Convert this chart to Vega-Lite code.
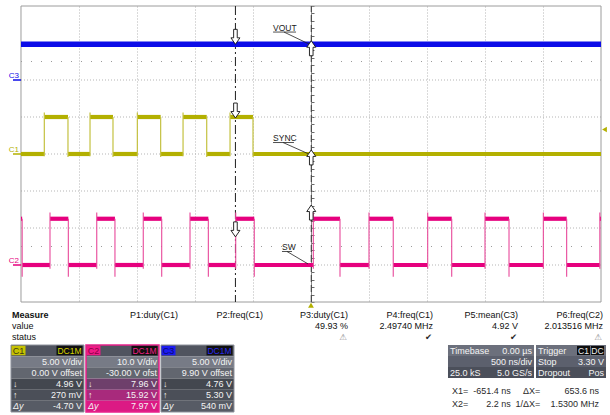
{
"$schema": "https://vega.github.io/schema/vega-lite/v6.json",
"background": "white",
"padding": {"left": 0, "top": 5, "right": 0, "bottom": 0},
"spacing": 2,
"config": {"font": "Liberation Sans", "view": {"stroke": null}},
"vconcat": [
{
 "width": 601, "height": 296,
 "resolve": {"scale": {"y": "independent"}},
 "layer": [
  {
   "data": {"values": [{"d": -3}, {"d": -2}, {"d": -1}, {"d": 0}, {"d": 1}, {"d": 2}, {"d": 3}]},
   "mark": {"type": "rule", "color": "#b4b4b4", "strokeDash": [1, 2], "strokeWidth": 1},
   "encoding": {
    "x": {"datum": -2500, "type": "quantitative", "scale": {"domain": [-2681.03, 2500], "nice": false, "zero": false},
      "axis": {"values": [-2000,-1500,-1000,-500,0,500,1000,1500,2000], "grid": true, "gridDash": [1,2], "gridColor": "#b4b4b4", "domain": false, "ticks": false, "labels": false, "title": null, "minExtent": 0, "maxExtent": 0}},
    "x2": {"datum": 2500},
    "y": {"field": "d", "type": "quantitative", "scale": {"domain": [-4, 4], "nice": false, "zero": false}, "axis": null}
   }
  },
  {
   "data": {"values": [{"d": 2.5}, {"d": -2.5}]},
   "mark": {"type": "rule", "color": "#9a9a9a", "strokeDash": [1, 9], "strokeWidth": 1},
   "encoding": {
    "x": {"datum": -2500, "type": "quantitative", "scale": {"domain": [-2681.03, 2500], "nice": false, "zero": false}},
    "x2": {"datum": 2500},
    "y": {"field": "d", "type": "quantitative", "scale": {"domain": [-4, 4], "nice": false, "zero": false}, "axis": null}
   }
  },
  {
   "data": {"values": [
    {"t0": -2500, "t1": 2500, "d0": 4, "d1": 4},
    {"t0": -2500, "t1": 2500, "d0": -4, "d1": -4},
    {"t0": -2500, "t1": -2500, "d0": -4, "d1": 4},
    {"t0": 2500, "t1": 2500, "d0": -4, "d1": 4}
   ]},
   "mark": {"type": "rule", "color": "#9c9c9c", "strokeWidth": 1},
   "encoding": {
    "x": {"field": "t0", "type": "quantitative", "scale": {"domain": [-2681.03, 2500], "nice": false, "zero": false}},
    "x2": {"field": "t1"},
    "y": {"field": "d0", "type": "quantitative", "scale": {"domain": [-4, 4], "nice": false, "zero": false}, "axis": null},
    "y2": {"field": "d1"}
   }
  },
  {
   "data": {"values": [{"lab": "C3", "d": 2}, {"lab": "C1", "d": 0}, {"lab": "C2", "d": -3}]},
   "layer": [
    {
     "mark": {"type": "rule", "strokeWidth": 1.5},
     "encoding": {
      "x": {"datum": -2569, "type": "quantitative", "scale": {"domain": [-2681.03, 2500], "nice": false, "zero": false}},
      "x2": {"datum": -2500},
      "y": {"field": "d", "type": "quantitative", "scale": {"domain": [-4, 4], "nice": false, "zero": false}, "axis": null},
      "color": {"field": "lab", "type": "nominal", "scale": {"domain": ["C1", "C2", "C3"], "range": ["#b3b000", "#e6007e", "#0c0ce8"]}, "legend": null}
     }
    },
    {
     "mark": {"type": "text", "align": "right", "baseline": "bottom", "dx": -2, "dy": -0.5, "fontSize": 8},
     "encoding": {
      "x": {"datum": -2500, "type": "quantitative", "scale": {"domain": [-2681.03, 2500], "nice": false, "zero": false}},
      "y": {"field": "d", "type": "quantitative", "scale": {"domain": [-4, 4], "nice": false, "zero": false}, "axis": null},
      "text": {"field": "lab"},
      "color": {"field": "lab", "type": "nominal", "scale": {"domain": ["C1", "C2", "C3"], "range": ["#b3b000", "#e6007e", "#0c0ce8"]}, "legend": null}
     }
    }
   ]
  },
  {
   "data": {"values": [{}]},
   "mark": {"type": "point", "shape": "triangle-up", "filled": true, "color": "#b3b000", "size": 34, "opacity": 1},
   "encoding": {
    "x": {"datum": 0, "type": "quantitative", "scale": {"domain": [-2681.03, 2500], "nice": false, "zero": false}},
    "y": {"datum": -4.09, "type": "quantitative", "scale": {"domain": [-4, 4], "nice": false, "zero": false}, "axis": null}
   }
  },
  {
   "data": {"values": [{}]},
   "mark": {"type": "rule", "color": "#1e1e1e", "strokeDash": [9, 3, 2, 3], "strokeWidth": 1},
   "encoding": {"x": {"datum": -651.4, "type": "quantitative", "scale": {"domain": [-2681.03, 2500], "nice": false, "zero": false}}}
  },
  {
   "data": {"values": [{}]},
   "mark": {"type": "rule", "color": "#3a3a3a", "strokeDash": [7, 3], "strokeWidth": 1},
   "encoding": {
    "x": {"datum": 2.2, "type": "quantitative", "scale": {"domain": [-2681.03, 2500], "nice": false, "zero": false}},
    "y": {"datum": -4, "type": "quantitative", "scale": {"domain": [-4, 4], "nice": false, "zero": false},
      "axis": {"orient": "right", "offset": -290, "values": [-4,-3.8,-3.6,-3.4,-3.2,-3,-2.8,-2.6,-2.4,-2.2,-2,-1.8,-1.6,-1.4,-1.2,-1,-0.8,-0.6,-0.4,-0.2,0,0.2,0.4,0.6,0.8,1,1.2,1.4,1.6,1.8,2,2.2,2.4,2.6,2.8,3,3.2,3.4,3.6,3.8,4], "labels": false, "grid": false, "domain": true, "domainColor": "#8a8a8a", "ticks": true, "tickSize": 3, "tickColor": "#6a6a6a", "title": null, "minExtent": 0, "maxExtent": 0}},
    "y2": {"datum": 4}
   }
  },
  {
   "layer": [
    {
     "data": {"values": [{"t0": -2500, "t1": 2500, "v": 4.92}]},
     "mark": {"type": "rule", "color": "#0c0ce8", "strokeWidth": 5.5},
     "encoding": {
      "x": {"field": "t0", "type": "quantitative", "scale": {"domain": [-2681.03, 2500], "nice": false, "zero": false}},
      "x2": {"field": "t1"},
      "y": {"field": "v", "type": "quantitative", "scale": {"domain": [-29.9, 10.1], "nice": false, "zero": false}, "axis": null}
     }
    },
    {
     "data": {"values": [{"t0": -327, "v0": 6.58, "t1": -129, "v1": 6.58}, {"t0": -233, "v0": 6.58, "t1": -17, "v1": 4.96}]},
     "mark": {"type": "rule", "color": "#222222", "strokeWidth": 0.8},
     "encoding": {
      "x": {"field": "t0", "type": "quantitative", "scale": {"domain": [-2681.03, 2500], "nice": false, "zero": false}},
      "x2": {"field": "t1"},
      "y": {"field": "v0", "type": "quantitative", "scale": {"domain": [-29.9, 10.1], "nice": false, "zero": false}, "axis": null},
      "y2": {"field": "v1"}
     }
    },
    {
     "data": {"values": [{"t": -327, "v": 6.78, "name": "VOUT"}]},
     "mark": {"type": "text", "align": "left", "baseline": "alphabetic", "fontSize": 8.5, "color": "#222222"},
     "encoding": {
      "x": {"field": "t", "type": "quantitative", "scale": {"domain": [-2681.03, 2500], "nice": false, "zero": false}},
      "y": {"field": "v", "type": "quantitative", "scale": {"domain": [-29.9, 10.1], "nice": false, "zero": false}, "axis": null},
      "text": {"field": "name"}
     }
    },
    {
     "data": {"values": [{"t": -651.4, "v": 4.92, "cursor": "X1"}, {"t": 2.2, "v": 5.4, "cursor": "X2"}]},
     "mark": {"type": "point", "filled": true, "fill": "white", "stroke": "#111111", "strokeWidth": 0.9, "size": 400, "opacity": 1},
     "encoding": {
      "x": {"field": "t", "type": "quantitative", "scale": {"domain": [-2681.03, 2500], "nice": false, "zero": false}},
      "y": {"field": "v", "type": "quantitative", "scale": {"domain": [-29.9, 10.1], "nice": false, "zero": false}, "axis": null},
      "shape": {"field": "cursor", "type": "nominal", "scale": {"domain": ["X1", "X2"], "range": ["M-0.18,-1.5L0.18,-1.5L0.18,-0.65L0.45,-0.65L0,0L-0.45,-0.65L-0.18,-0.65Z", "M-0.18,1.5L0.18,1.5L0.18,0.65L0.45,0.65L0,0L-0.45,0.65L-0.18,0.65Z"]}, "legend": null}
     }
    }
   ]
  },
  {
   "layer": [
    {
     "data": {"values": [
      {"t0": -2500, "t1": -2299, "v": 0}, {"t0": -2299, "t1": -2095, "v": 5},
      {"t0": -2095, "t1": -1905, "v": 0}, {"t0": -1905, "t1": -1707, "v": 5},
      {"t0": -1707, "t1": -1497, "v": 0}, {"t0": -1497, "t1": -1296, "v": 5},
      {"t0": -1296, "t1": -1103, "v": 0}, {"t0": -1103, "t1": -899, "v": 5},
      {"t0": -899, "t1": -698, "v": 0}, {"t0": -698, "t1": -500, "v": 5},
      {"t0": -500, "t1": 2500, "v": 0}
     ]},
     "mark": {"type": "rule", "color": "#b3b000", "strokeWidth": 4.2},
     "encoding": {
      "x": {"field": "t0", "type": "quantitative", "scale": {"domain": [-2681.03, 2500], "nice": false, "zero": false}},
      "x2": {"field": "t1"},
      "y": {"field": "v", "type": "quantitative", "scale": {"domain": [-20, 20], "nice": false, "zero": false}, "axis": null}
     }
    },
    {
     "data": {"values": [
      {"t": -2299, "v0": -0.3, "v1": 5.6}, {"t": -2095, "v0": 5, "v1": -0.4},
      {"t": -1905, "v0": -0.3, "v1": 5.6}, {"t": -1707, "v0": 5, "v1": -0.4},
      {"t": -1497, "v0": -0.3, "v1": 5.6}, {"t": -1296, "v0": 5, "v1": -0.4},
      {"t": -1103, "v0": -0.3, "v1": 5.6}, {"t": -899, "v0": 5, "v1": -0.4},
      {"t": -698, "v0": -0.3, "v1": 5.6}, {"t": -500, "v0": 5, "v1": -0.4}
     ]},
     "mark": {"type": "rule", "color": "#c4c140", "strokeWidth": 1.2},
     "encoding": {
      "x": {"field": "t", "type": "quantitative", "scale": {"domain": [-2681.03, 2500], "nice": false, "zero": false}},
      "y": {"field": "v0", "type": "quantitative", "scale": {"domain": [-20, 20], "nice": false, "zero": false}, "axis": null},
      "y2": {"field": "v1"}
     }
    },
    {
     "data": {"values": [{"t0": -327, "v0": 1.55, "t1": -147, "v1": 1.55}, {"t0": -241, "v0": 1.55, "t1": -26, "v1": 0.05}]},
     "mark": {"type": "rule", "color": "#222222", "strokeWidth": 0.8},
     "encoding": {
      "x": {"field": "t0", "type": "quantitative", "scale": {"domain": [-2681.03, 2500], "nice": false, "zero": false}},
      "x2": {"field": "t1"},
      "y": {"field": "v0", "type": "quantitative", "scale": {"domain": [-20, 20], "nice": false, "zero": false}, "axis": null},
      "y2": {"field": "v1"}
     }
    },
    {
     "data": {"values": [{"t": -327, "v": 1.76, "name": "SYNC"}]},
     "mark": {"type": "text", "align": "left", "baseline": "alphabetic", "fontSize": 8.5, "color": "#222222"},
     "encoding": {
      "x": {"field": "t", "type": "quantitative", "scale": {"domain": [-2681.03, 2500], "nice": false, "zero": false}},
      "y": {"field": "v", "type": "quantitative", "scale": {"domain": [-20, 20], "nice": false, "zero": false}, "axis": null},
      "text": {"field": "name"}
     }
    },
    {
     "data": {"values": [{"t": -651.4, "v": 4.86, "cursor": "X1"}, {"t": 2.2, "v": 0.55, "cursor": "X2"}]},
     "mark": {"type": "point", "filled": true, "fill": "white", "stroke": "#111111", "strokeWidth": 0.9, "size": 400, "opacity": 1},
     "encoding": {
      "x": {"field": "t", "type": "quantitative", "scale": {"domain": [-2681.03, 2500], "nice": false, "zero": false}},
      "y": {"field": "v", "type": "quantitative", "scale": {"domain": [-20, 20], "nice": false, "zero": false}, "axis": null},
      "shape": {"field": "cursor", "type": "nominal", "scale": {"domain": ["X1", "X2"], "range": ["M-0.18,-1.5L0.18,-1.5L0.18,-0.65L0.45,-0.65L0,0L-0.45,-0.65L-0.18,-0.65Z", "M-0.18,1.5L0.18,1.5L0.18,0.65L0.45,0.65L0,0L-0.45,0.65L-0.18,0.65Z"]}, "legend": null}
     }
    },
    {
     "data": {"values": [{"t": 2530, "v": 3.3}]},
     "mark": {"type": "point", "shape": "triangle-left", "filled": true, "color": "#b3b000", "size": 30, "opacity": 1},
     "encoding": {
      "x": {"field": "t", "type": "quantitative", "scale": {"domain": [-2681.03, 2500], "nice": false, "zero": false}},
      "y": {"field": "v", "type": "quantitative", "scale": {"domain": [-20, 20], "nice": false, "zero": false}, "axis": null}
     }
    }
   ]
  },
  {
   "layer": [
    {
     "data": {"values": [
      {"t0": -2500, "t1": -2490, "v": 12.5}, {"t0": -2490, "t1": -2250, "v": 0},
      {"t0": -2250, "t1": -2092, "v": 12.5}, {"t0": -2092, "t1": -1847, "v": 0},
      {"t0": -1847, "t1": -1690, "v": 12.5}, {"t0": -1690, "t1": -1446, "v": 0},
      {"t0": -1446, "t1": -1287, "v": 12.5}, {"t0": -1287, "t1": -1043, "v": 0},
      {"t0": -1043, "t1": -885, "v": 12.5}, {"t0": -885, "t1": -649, "v": 0},
      {"t0": -649, "t1": -489, "v": 12.5}, {"t0": -489, "t1": 20, "v": 0},
      {"t0": 20, "t1": 250, "v": 12.5}, {"t0": 250, "t1": 500, "v": 0},
      {"t0": 500, "t1": 709, "v": 12.5}, {"t0": 709, "t1": 1006, "v": 0},
      {"t0": 1006, "t1": 1213, "v": 12.5}, {"t0": 1213, "t1": 1500, "v": 0},
      {"t0": 1500, "t1": 1707, "v": 12.5}, {"t0": 1707, "t1": 2003, "v": 0},
      {"t0": 2003, "t1": 2204, "v": 12.5}, {"t0": 2204, "t1": 2490, "v": 0},
      {"t0": 2490, "t1": 2500, "v": 12.5}
     ]},
     "mark": {"type": "rule", "color": "#e6007e", "strokeWidth": 4.2},
     "encoding": {
      "x": {"field": "t0", "type": "quantitative", "scale": {"domain": [-2681.03, 2500], "nice": false, "zero": false}},
      "x2": {"field": "t1"},
      "y": {"field": "v", "type": "quantitative", "scale": {"domain": [-10, 70], "nice": false, "zero": false}, "axis": null}
     }
    },
    {
     "data": {"values": [
      {"t": -2490, "v0": 12.5, "v1": -3.2}, {"t": -2250, "v0": -1, "v1": 14.2},
      {"t": -2092, "v0": 12.5, "v1": -3.2}, {"t": -1847, "v0": -1, "v1": 14.2},
      {"t": -1690, "v0": 12.5, "v1": -3.2}, {"t": -1446, "v0": -1, "v1": 14.2},
      {"t": -1287, "v0": 12.5, "v1": -3.2}, {"t": -1043, "v0": -1, "v1": 14.2},
      {"t": -885, "v0": 12.5, "v1": -3.2}, {"t": -649, "v0": -1, "v1": 14.2},
      {"t": -489, "v0": 12.5, "v1": -3.2}, {"t": 20, "v0": -1, "v1": 14.2},
      {"t": 250, "v0": 12.5, "v1": -3.2}, {"t": 500, "v0": -1, "v1": 14.2},
      {"t": 709, "v0": 12.5, "v1": -3.2}, {"t": 1006, "v0": -1, "v1": 14.2},
      {"t": 1213, "v0": 12.5, "v1": -3.2}, {"t": 1500, "v0": -1, "v1": 14.2},
      {"t": 1707, "v0": 12.5, "v1": -3.2}, {"t": 2003, "v0": -1, "v1": 14.2},
      {"t": 2204, "v0": 12.5, "v1": -3.2}, {"t": 2490, "v0": -1, "v1": 14.2}
     ]},
     "mark": {"type": "rule", "color": "#e8489a", "strokeWidth": 1.1},
     "encoding": {
      "x": {"field": "t", "type": "quantitative", "scale": {"domain": [-2681.03, 2500], "nice": false, "zero": false}},
      "y": {"field": "v0", "type": "quantitative", "scale": {"domain": [-10, 70], "nice": false, "zero": false}, "axis": null},
      "y2": {"field": "v1"}
     }
    },
    {
     "data": {"values": [{"t0": -250, "v0": 3.65, "t1": -164, "v1": 3.65}, {"t0": -207, "v0": 3.65, "t1": -26, "v1": 0.3}]},
     "mark": {"type": "rule", "color": "#222222", "strokeWidth": 0.8},
     "encoding": {
      "x": {"field": "t0", "type": "quantitative", "scale": {"domain": [-2681.03, 2500], "nice": false, "zero": false}},
      "x2": {"field": "t1"},
      "y": {"field": "v0", "type": "quantitative", "scale": {"domain": [-10, 70], "nice": false, "zero": false}, "axis": null},
      "y2": {"field": "v1"}
     }
    },
    {
     "data": {"values": [{"t": -250, "v": 4.05, "name": "SW"}]},
     "mark": {"type": "text", "align": "left", "baseline": "alphabetic", "fontSize": 8.5, "color": "#222222"},
     "encoding": {
      "x": {"field": "t", "type": "quantitative", "scale": {"domain": [-2681.03, 2500], "nice": false, "zero": false}},
      "y": {"field": "v", "type": "quantitative", "scale": {"domain": [-10, 70], "nice": false, "zero": false}, "axis": null},
      "text": {"field": "name"}
     }
    },
    {
     "data": {"values": [{"t": -651.4, "v": 7.6, "cursor": "X1"}, {"t": 2.2, "v": 16.2, "cursor": "X2"}]},
     "mark": {"type": "point", "filled": true, "fill": "white", "stroke": "#111111", "strokeWidth": 0.9, "size": 400, "opacity": 1},
     "encoding": {
      "x": {"field": "t", "type": "quantitative", "scale": {"domain": [-2681.03, 2500], "nice": false, "zero": false}},
      "y": {"field": "v", "type": "quantitative", "scale": {"domain": [-10, 70], "nice": false, "zero": false}, "axis": null},
      "shape": {"field": "cursor", "type": "nominal", "scale": {"domain": ["X1", "X2"], "range": ["M-0.18,-1.5L0.18,-1.5L0.18,-0.65L0.45,-0.65L0,0L-0.45,-0.65L-0.18,-0.65Z", "M-0.18,1.5L0.18,1.5L0.18,0.65L0.45,0.65L0,0L-0.45,0.65L-0.18,0.65Z"]}, "legend": null}
     }
    }
   ]
  }
 ]
},
{
 "width": 604, "height": 32,
 "data": {"values": [
  {"col": "M", "row": "head", "txt": "Measure"},
  {"col": "M", "row": "value", "txt": "value"},
  {"col": "M", "row": "status", "txt": "status"},
  {"col": "P1", "row": "head", "txt": "P1:duty(C1)"},
  {"col": "P2", "row": "head", "txt": "P2:freq(C1)"},
  {"col": "P3", "row": "head", "txt": "P3:duty(C1)"},
  {"col": "P4", "row": "head", "txt": "P4:freq(C1)"},
  {"col": "P5", "row": "head", "txt": "P5:mean(C3)"},
  {"col": "P6", "row": "head", "txt": "P6:freq(C2)"},
  {"col": "P3", "row": "value", "txt": "49.93 %"},
  {"col": "P4", "row": "value", "txt": "2.49740 MHz"},
  {"col": "P5", "row": "value", "txt": "4.92 V"},
  {"col": "P6", "row": "value", "txt": "2.013516 MHz"},
  {"col": "P3", "row": "status", "txt": "⚠"},
  {"col": "P4", "row": "status", "txt": "✔"},
  {"col": "P5", "row": "status", "txt": "✔"},
  {"col": "P6", "row": "status", "txt": "⚠"}
 ]},
 "layer": [
  {
   "transform": [{"filter": "datum.col === 'M' && datum.row === 'head'"}],
   "mark": {"type": "text", "align": "left", "dx": 3, "fontWeight": "bold", "fontSize": 9, "color": "#111111"},
   "encoding": {
    "x": {"field": "col", "type": "nominal", "bandPosition": 0, "scale": {"type": "band", "domain": ["M","P1","P2","P3","P4","P5","P6"], "paddingInner": 0, "paddingOuter": 0.053, "align": 1}, "axis": null},
    "y": {"field": "row", "type": "nominal", "scale": {"type": "band", "domain": ["head","value","status"], "paddingInner": 0, "paddingOuter": 0}, "axis": null},
    "text": {"field": "txt"}
   }
  },
  {
   "transform": [{"filter": "datum.col === 'M' && datum.row !== 'head'"}],
   "mark": {"type": "text", "align": "left", "dx": 3, "fontSize": 9, "color": "#111111"},
   "encoding": {
    "x": {"field": "col", "type": "nominal", "bandPosition": 0, "scale": {"type": "band", "domain": ["M","P1","P2","P3","P4","P5","P6"], "paddingInner": 0, "paddingOuter": 0.053, "align": 1}, "axis": null},
    "y": {"field": "row", "type": "nominal", "scale": {"type": "band", "domain": ["head","value","status"], "paddingInner": 0, "paddingOuter": 0}, "axis": null},
    "text": {"field": "txt"}
   }
  },
  {
   "transform": [{"filter": "datum.col !== 'M' && datum.row !== 'status'"}],
   "mark": {"type": "text", "align": "right", "dx": -1, "fontSize": 9, "color": "#111111"},
   "encoding": {
    "x": {"field": "col", "type": "nominal", "bandPosition": 1, "scale": {"type": "band", "domain": ["M","P1","P2","P3","P4","P5","P6"], "paddingInner": 0, "paddingOuter": 0.053, "align": 1}, "axis": null},
    "y": {"field": "row", "type": "nominal", "scale": {"type": "band", "domain": ["head","value","status"], "paddingInner": 0, "paddingOuter": 0}, "axis": null},
    "text": {"field": "txt"}
   }
  },
  {
   "transform": [{"filter": "datum.col !== 'M' && datum.row === 'status'"}],
   "mark": {"type": "text", "align": "right", "dx": -2, "fontSize": 8.5, "font": "DejaVu Sans"},
   "encoding": {
    "x": {"field": "col", "type": "nominal", "bandPosition": 1, "scale": {"type": "band", "domain": ["M","P1","P2","P3","P4","P5","P6"], "paddingInner": 0, "paddingOuter": 0.053, "align": 1}, "axis": null},
    "y": {"field": "row", "type": "nominal", "scale": {"type": "band", "domain": ["head","value","status"], "paddingInner": 0, "paddingOuter": 0}, "axis": null},
    "text": {"field": "txt"},
    "color": {"condition": {"test": "datum.txt === '⚠'", "value": "#858585"}, "value": "#2a2a2a"}
   }
  }
 ]
},
{
 "spacing": 212,
 "hconcat": [
  {
   "width": 234, "height": 67,
   "data": {"values": [
    {"ch": "C1", "row": "h", "lab": "", "val": ""},
    {"ch": "C1", "row": "r1", "lab": "", "val": "5.00 V/div"},
    {"ch": "C1", "row": "r2", "lab": "", "val": "0.00 V offset"},
    {"ch": "C1", "row": "r3", "lab": "↓", "val": "4.96 V"},
    {"ch": "C1", "row": "r4", "lab": "↑", "val": "270 mV"},
    {"ch": "C1", "row": "r5", "lab": "Δy", "val": "-4.70 V"},
    {"ch": "C2", "row": "h", "lab": "", "val": ""},
    {"ch": "C2", "row": "r1", "lab": "", "val": "10.0 V/div"},
    {"ch": "C2", "row": "r2", "lab": "", "val": "-30.00 V ofst"},
    {"ch": "C2", "row": "r3", "lab": "↓", "val": "7.96 V"},
    {"ch": "C2", "row": "r4", "lab": "↑", "val": "15.92 V"},
    {"ch": "C2", "row": "r5", "lab": "Δy", "val": "7.97 V"},
    {"ch": "C3", "row": "h", "lab": "", "val": ""},
    {"ch": "C3", "row": "r1", "lab": "", "val": "5.00 V/div"},
    {"ch": "C3", "row": "r2", "lab": "", "val": "9.90 V offset"},
    {"ch": "C3", "row": "r3", "lab": "↓", "val": "4.76 V"},
    {"ch": "C3", "row": "r4", "lab": "↑", "val": "5.30 V"},
    {"ch": "C3", "row": "r5", "lab": "Δy", "val": "540 mV"}
   ]},
   "resolve": {"scale": {"color": "independent"}},
   "layer": [
    {
     "transform": [{"filter": "datum.ch !== 'C2'"}],
     "mark": {"type": "rect"},
     "encoding": {
      "x": {"field": "ch", "type": "nominal", "scale": {"type": "band", "domain": ["C1","C2","C3"], "paddingInner": 0.0267, "paddingOuter": 0.0733, "align": 1}, "axis": null},
      "y": {"field": "row", "type": "nominal", "scale": {"type": "band", "domain": ["h","r1","r2","r3","r4","r5"], "paddingInner": 0, "paddingOuter": 0}, "axis": null},
      "color": {"field": "row", "type": "nominal", "scale": {"domain": ["h","r1","r2","r3","r4","r5"], "range": ["#50545f","#777b86","#62666f","#43474f","#4b4f58","#575b65"]}, "legend": null}
     }
    },
    {
     "transform": [{"filter": "datum.ch === 'C2'"}],
     "mark": {"type": "rect"},
     "encoding": {
      "x": {"field": "ch", "type": "nominal", "scale": {"type": "band", "domain": ["C1","C2","C3"], "paddingInner": 0.0267, "paddingOuter": 0.0733, "align": 1}, "axis": null},
      "y": {"field": "row", "type": "nominal", "scale": {"type": "band", "domain": ["h","r1","r2","r3","r4","r5"], "paddingInner": 0, "paddingOuter": 0}, "axis": null},
      "color": {"field": "row", "type": "nominal", "scale": {"domain": ["h","r1","r2","r3","r4","r5"], "range": ["#50545f","#777b86","#62666f","#6e3f6b","#a82a7c","#dc1a84"]}, "legend": null}
     }
    },
    {
     "transform": [{"filter": "datum.row === 'h' && datum.ch !== 'C2'"}],
     "mark": {"type": "rect", "fillOpacity": 0, "stroke": "#8e929c", "strokeWidth": 1},
     "encoding": {
      "x": {"field": "ch", "type": "nominal", "scale": {"type": "band", "domain": ["C1","C2","C3"], "paddingInner": 0.0267, "paddingOuter": 0.0733, "align": 1}, "axis": null}
     }
    },
    {
     "transform": [{"filter": "datum.row === 'h' && datum.ch === 'C2'"}],
     "mark": {"type": "rect", "fillOpacity": 0, "stroke": "#e8208a", "strokeWidth": 1.5},
     "encoding": {
      "x": {"field": "ch", "type": "nominal", "scale": {"type": "band", "domain": ["C1","C2","C3"], "paddingInner": 0.0267, "paddingOuter": 0.0733, "align": 1}, "axis": null}
     }
    },
    {
     "transform": [{"filter": "datum.row === 'h'"}],
     "mark": {"type": "rect", "width": 14, "height": 9.5, "xOffset": -29},
     "encoding": {
      "x": {"field": "ch", "type": "nominal", "scale": {"type": "band", "domain": ["C1","C2","C3"], "paddingInner": 0.0267, "paddingOuter": 0.0733, "align": 1}, "axis": null},
      "y": {"field": "row", "type": "nominal", "scale": {"type": "band", "domain": ["h","r1","r2","r3","r4","r5"], "paddingInner": 0, "paddingOuter": 0}, "axis": null},
      "color": {"field": "ch", "type": "nominal", "scale": {"domain": ["C1","C2","C3"], "range": ["#c6c200","#ef1a86","#1c1cf0"]}, "legend": null}
     }
    },
    {
     "transform": [{"filter": "datum.row === 'h'"}],
     "mark": {"type": "rect", "width": 26, "height": 9.5, "xOffset": 22, "color": "#101010"},
     "encoding": {
      "x": {"field": "ch", "type": "nominal", "scale": {"type": "band", "domain": ["C1","C2","C3"], "paddingInner": 0.0267, "paddingOuter": 0.0733, "align": 1}, "axis": null},
      "y": {"field": "row", "type": "nominal", "scale": {"type": "band", "domain": ["h","r1","r2","r3","r4","r5"], "paddingInner": 0, "paddingOuter": 0}, "axis": null}
     }
    },
    {
     "transform": [{"filter": "datum.row === 'h'"}],
     "mark": {"type": "text", "dx": -29, "fontSize": 9},
     "encoding": {
      "x": {"field": "ch", "type": "nominal", "scale": {"type": "band", "domain": ["C1","C2","C3"], "paddingInner": 0.0267, "paddingOuter": 0.0733, "align": 1}, "axis": null},
      "y": {"field": "row", "type": "nominal", "scale": {"type": "band", "domain": ["h","r1","r2","r3","r4","r5"], "paddingInner": 0, "paddingOuter": 0}, "axis": null},
      "text": {"field": "ch"},
      "color": {"field": "ch", "type": "nominal", "scale": {"domain": ["C1","C2","C3"], "range": ["#3c3c10","#8a0045","#0a0a70"]}, "legend": null}
     }
    },
    {
     "transform": [{"filter": "datum.row === 'h'"}],
     "mark": {"type": "text", "dx": 22, "fontSize": 8.5, "text": "DC1M"},
     "encoding": {
      "x": {"field": "ch", "type": "nominal", "scale": {"type": "band", "domain": ["C1","C2","C3"], "paddingInner": 0.0267, "paddingOuter": 0.0733, "align": 1}, "axis": null},
      "y": {"field": "row", "type": "nominal", "scale": {"type": "band", "domain": ["h","r1","r2","r3","r4","r5"], "paddingInner": 0, "paddingOuter": 0}, "axis": null},
      "color": {"field": "ch", "type": "nominal", "scale": {"domain": ["C1","C2","C3"], "range": ["#d8d400","#f02088","#2a2aee"]}, "legend": null}
     }
    },
    {
     "transform": [{"filter": "datum.row !== 'h'"}],
     "mark": {"type": "text", "align": "right", "dx": -2, "fontSize": 9, "color": "#f4f4f4"},
     "encoding": {
      "x": {"field": "ch", "type": "nominal", "bandPosition": 1, "scale": {"type": "band", "domain": ["C1","C2","C3"], "paddingInner": 0.0267, "paddingOuter": 0.0733, "align": 1}, "axis": null},
      "y": {"field": "row", "type": "nominal", "scale": {"type": "band", "domain": ["h","r1","r2","r3","r4","r5"], "paddingInner": 0, "paddingOuter": 0}, "axis": null},
      "text": {"field": "val"}
     }
    },
    {
     "transform": [{"filter": "datum.row !== 'h'"}],
     "mark": {"type": "text", "align": "left", "dx": 2, "fontSize": 9, "fontStyle": "italic", "color": "#f4f4f4"},
     "encoding": {
      "x": {"field": "ch", "type": "nominal", "bandPosition": 0, "scale": {"type": "band", "domain": ["C1","C2","C3"], "paddingInner": 0.0267, "paddingOuter": 0.0733, "align": 1}, "axis": null},
      "y": {"field": "row", "type": "nominal", "scale": {"type": "band", "domain": ["h","r1","r2","r3","r4","r5"], "paddingInner": 0, "paddingOuter": 0}, "axis": null},
      "text": {"field": "lab"}
     }
    }
   ]
  },
  {
   "width": 158, "height": 66,
   "resolve": {"scale": {"x": "independent", "y": "independent", "color": "independent"}},
   "layer": [
    {
     "data": {"values": [
      {"box": "TB", "row": "h", "l": "Timebase", "r": "0.00 µs"},
      {"box": "TB", "row": "r1", "l": "", "r": "500 ns/div"},
      {"box": "TB", "row": "r2", "l": "25.0 kS", "r": "5.0 GS/s"},
      {"box": "TR", "row": "h", "l": "Trigger", "r": ""},
      {"box": "TR", "row": "r1", "l": "Stop", "r": "3.30 V"},
      {"box": "TR", "row": "r2", "l": "Dropout", "r": "Pos"}
     ]},
     "layer": [
      {
       "transform": [{"filter": "datum.box === 'TB'"}],
       "mark": {"type": "rect", "width": 86, "height": 11, "xOffset": 4},
       "encoding": {
        "x": {"field": "box", "type": "nominal", "scale": {"type": "band", "domain": ["TB","TR"], "paddingInner": 0.0253, "paddingOuter": 0}, "axis": null},
        "y": {"field": "row", "type": "nominal", "scale": {"type": "band", "domain": ["h","r1","r2","e1","e2","e3"], "paddingInner": 0, "paddingOuter": 0}, "axis": null},
        "color": {"field": "row", "type": "nominal", "scale": {"domain": ["h","r1","r2"], "range": ["#6c707c","#5c606d","#4b4f5a"]}, "legend": null}
       }
      },
      {
       "transform": [{"filter": "datum.box === 'TR'"}],
       "mark": {"type": "rect", "width": 70, "height": 11, "xOffset": 4},
       "encoding": {
        "x": {"field": "box", "type": "nominal", "scale": {"type": "band", "domain": ["TB","TR"], "paddingInner": 0.0253, "paddingOuter": 0}, "axis": null},
        "y": {"field": "row", "type": "nominal", "scale": {"type": "band", "domain": ["h","r1","r2","e1","e2","e3"], "paddingInner": 0, "paddingOuter": 0}, "axis": null},
        "color": {"field": "row", "type": "nominal", "scale": {"domain": ["h","r1","r2"], "range": ["#6c707c","#5c606d","#4b4f5a"]}, "legend": null}
       }
      },
      {
       "transform": [{"filter": "datum.box === 'TR' && datum.row === 'h'"}],
       "mark": {"type": "rect", "width": 13, "height": 9, "xOffset": 16.5, "color": "#0e0e0e"},
       "encoding": {
        "x": {"field": "box", "type": "nominal", "scale": {"type": "band", "domain": ["TB","TR"], "paddingInner": 0.0253, "paddingOuter": 0}, "axis": null},
        "y": {"field": "row", "type": "nominal", "scale": {"type": "band", "domain": ["h","r1","r2","e1","e2","e3"], "paddingInner": 0, "paddingOuter": 0}, "axis": null}
       }
      },
      {
       "transform": [{"filter": "datum.box === 'TR' && datum.row === 'h'"}],
       "mark": {"type": "rect", "width": 13, "height": 9, "xOffset": 30.5, "color": "#0e0e0e"},
       "encoding": {
        "x": {"field": "box", "type": "nominal", "scale": {"type": "band", "domain": ["TB","TR"], "paddingInner": 0.0253, "paddingOuter": 0}, "axis": null},
        "y": {"field": "row", "type": "nominal", "scale": {"type": "band", "domain": ["h","r1","r2","e1","e2","e3"], "paddingInner": 0, "paddingOuter": 0}, "axis": null}
       }
      },
      {
       "transform": [{"filter": "datum.box === 'TR' && datum.row === 'h'"}],
       "mark": {"type": "text", "dx": 16.5, "fontSize": 8.5, "text": "C1", "color": "#f0f0f0"},
       "encoding": {
        "x": {"field": "box", "type": "nominal", "scale": {"type": "band", "domain": ["TB","TR"], "paddingInner": 0.0253, "paddingOuter": 0}, "axis": null},
        "y": {"field": "row", "type": "nominal", "scale": {"type": "band", "domain": ["h","r1","r2","e1","e2","e3"], "paddingInner": 0, "paddingOuter": 0}, "axis": null}
       }
      },
      {
       "transform": [{"filter": "datum.box === 'TR' && datum.row === 'h'"}],
       "mark": {"type": "text", "dx": 30.5, "fontSize": 8.5, "text": "DC", "color": "#f0f0f0"},
       "encoding": {
        "x": {"field": "box", "type": "nominal", "scale": {"type": "band", "domain": ["TB","TR"], "paddingInner": 0.0253, "paddingOuter": 0}, "axis": null},
        "y": {"field": "row", "type": "nominal", "scale": {"type": "band", "domain": ["h","r1","r2","e1","e2","e3"], "paddingInner": 0, "paddingOuter": 0}, "axis": null}
       }
      },
      {
       "transform": [{"filter": "datum.box === 'TB'"}],
       "mark": {"type": "text", "align": "left", "dx": 2, "fontSize": 9, "color": "#f4f4f4"},
       "encoding": {
        "x": {"field": "box", "type": "nominal", "bandPosition": 0, "scale": {"type": "band", "domain": ["TB","TR"], "paddingInner": 0.0253, "paddingOuter": 0}, "axis": null},
        "y": {"field": "row", "type": "nominal", "scale": {"type": "band", "domain": ["h","r1","r2","e1","e2","e3"], "paddingInner": 0, "paddingOuter": 0}, "axis": null},
        "text": {"field": "l"}
       }
      },
      {
       "transform": [{"filter": "datum.box === 'TR'"}],
       "mark": {"type": "text", "align": "left", "dx": 10, "fontSize": 9, "color": "#f4f4f4"},
       "encoding": {
        "x": {"field": "box", "type": "nominal", "bandPosition": 0, "scale": {"type": "band", "domain": ["TB","TR"], "paddingInner": 0.0253, "paddingOuter": 0}, "axis": null},
        "y": {"field": "row", "type": "nominal", "scale": {"type": "band", "domain": ["h","r1","r2","e1","e2","e3"], "paddingInner": 0, "paddingOuter": 0}, "axis": null},
        "text": {"field": "l"}
       }
      },
      {
       "transform": [{"filter": "datum.box === 'TB'"}],
       "mark": {"type": "text", "align": "right", "dx": 6, "fontSize": 9, "color": "#f4f4f4"},
       "encoding": {
        "x": {"field": "box", "type": "nominal", "bandPosition": 1, "scale": {"type": "band", "domain": ["TB","TR"], "paddingInner": 0.0253, "paddingOuter": 0}, "axis": null},
        "y": {"field": "row", "type": "nominal", "scale": {"type": "band", "domain": ["h","r1","r2","e1","e2","e3"], "paddingInner": 0, "paddingOuter": 0}, "axis": null},
        "text": {"field": "r"}
       }
      },
      {
       "transform": [{"filter": "datum.box === 'TR'"}],
       "mark": {"type": "text", "align": "right", "dx": -2, "fontSize": 9, "color": "#f4f4f4"},
       "encoding": {
        "x": {"field": "box", "type": "nominal", "bandPosition": 1, "scale": {"type": "band", "domain": ["TB","TR"], "paddingInner": 0.0253, "paddingOuter": 0}, "axis": null},
        "y": {"field": "row", "type": "nominal", "scale": {"type": "band", "domain": ["h","r1","r2","e1","e2","e3"], "paddingInner": 0, "paddingOuter": 0}, "axis": null},
        "text": {"field": "r"}
       }
      }
     ]
    },
    {
     "data": {"values": [
      {"col": "k1", "row": "c1", "txt": "X1="},
      {"col": "k2", "row": "c1", "txt": "-651.4 ns"},
      {"col": "k3", "row": "c1", "txt": "ΔX="},
      {"col": "k5", "row": "c1", "txt": "653.6 ns"},
      {"col": "k1", "row": "c2", "txt": "X2="},
      {"col": "k2", "row": "c2", "txt": "2.2 ns"},
      {"col": "k3", "row": "c2", "txt": "1/ΔX="},
      {"col": "k5", "row": "c2", "txt": "1.5300 MHz"}
     ]},
     "layer": [
      {
       "transform": [{"filter": "datum.col === 'k1'"}],
       "mark": {"type": "text", "align": "left", "fontSize": 9, "color": "#2a2a2a"},
       "encoding": {
        "x": {"field": "col", "type": "nominal", "bandPosition": 0, "scale": {"type": "band", "domain": ["k1","k2","k3","k4","k5"], "paddingInner": 0, "paddingOuter": 0.187, "align": 0.364}, "axis": null},
        "y": {"field": "row", "type": "nominal", "scale": {"type": "band", "domain": ["x1","x2","x3","c1","c2"], "paddingInner": 0, "paddingOuter": 0}, "axis": null},
        "text": {"field": "txt"}
       }
      },
      {
       "transform": [{"filter": "datum.col !== 'k1'"}],
       "mark": {"type": "text", "align": "right", "fontSize": 9, "color": "#2a2a2a"},
       "encoding": {
        "x": {"field": "col", "type": "nominal", "bandPosition": 1, "scale": {"type": "band", "domain": ["k1","k2","k3","k4","k5"], "paddingInner": 0, "paddingOuter": 0.187, "align": 0.364}, "axis": null},
        "y": {"field": "row", "type": "nominal", "scale": {"type": "band", "domain": ["x1","x2","x3","c1","c2"], "paddingInner": 0, "paddingOuter": 0}, "axis": null},
        "text": {"field": "txt"}
       }
      }
     ]
    }
   ]
  }
 ]
}
]
}
